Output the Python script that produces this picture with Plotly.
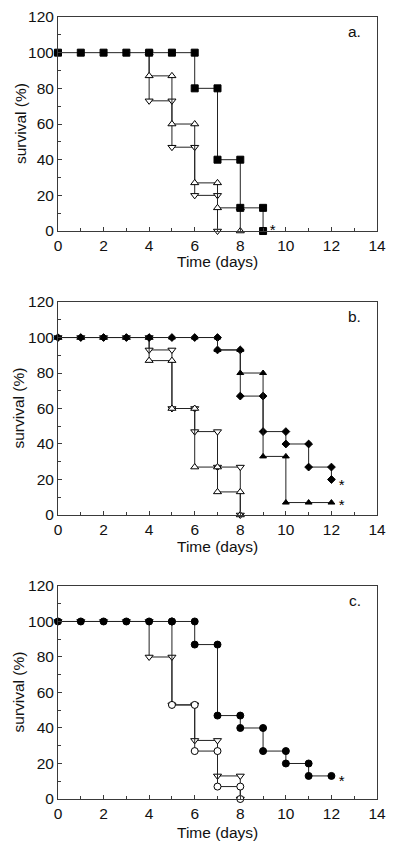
import plotly.graph_objects as go

# ---------- data ----------
# Panel a
a_sq_x = [0, 1, 2, 3, 4, 5, 6, 6, 7, 7, 8, 8, 9, 9]
a_sq_y = [100, 100, 100, 100, 100, 100, 100, 80, 80, 40, 40, 13, 13, 0]
a_up_x = [4, 4, 5, 5, 6, 6, 7, 7, 8, 8]
a_up_y = [100, 87, 87, 60, 60, 27, 27, 13, 13, 0]
a_dn_x = [4, 4, 5, 5, 6, 6, 7, 7]
a_dn_y = [100, 73, 73, 47, 47, 20, 20, 0]
a_star_x = [9.42]
a_star_y = [0]

# Panel b
b_dia_x = [0, 1, 2, 3, 4, 5, 6, 7, 7, 8, 8, 9, 9, 10, 10, 11, 11, 12, 12]
b_dia_y = [100, 100, 100, 100, 100, 100, 100, 100, 93, 93, 67, 67, 47, 47, 40, 40, 27, 27, 20]
b_tri_x = [0, 1, 2, 3, 4, 5, 6, 7, 7, 8, 8, 9, 9, 10, 10, 11, 12]
b_tri_y = [100, 100, 100, 100, 100, 100, 100, 100, 93, 93, 80, 80, 33, 33, 7, 7, 7]
b_dn_x = [0, 1, 2, 3, 4, 4, 5, 5, 6, 6, 7, 7, 8, 8]
b_dn_y = [100, 100, 100, 100, 100, 93, 93, 60, 60, 47, 47, 27, 27, 0]
b_up_x = [0, 1, 2, 3, 4, 4, 5, 5, 6, 6, 7, 7, 8, 8]
b_up_y = [100, 100, 100, 100, 100, 87, 87, 60, 60, 27, 27, 13, 13, 0]
b_star_x = [12.45, 12.45]
b_star_y = [16, 5]

# Panel c
c_fc_x = [0, 1, 2, 3, 4, 5, 6, 6, 7, 7, 8, 8, 9, 9, 10, 10, 11, 11, 12]
c_fc_y = [100, 100, 100, 100, 100, 100, 100, 87, 87, 47, 47, 40, 40, 27, 27, 20, 20, 13, 13]
c_dn_x = [0, 1, 2, 3, 4, 4, 5, 5, 6, 6, 7, 7, 8, 8]
c_dn_y = [100, 100, 100, 100, 100, 80, 80, 53, 53, 33, 33, 13, 13, 0]
c_oc_x = [5, 5, 6, 6, 7, 7, 8, 8]
c_oc_y = [100, 53, 53, 27, 27, 7, 7, 0]
c_star_x = [12.45]
c_star_y = [9.5]

panel_labels = ["a.", "b.", "c."]
x_title = "Time (days)"
y_title = "survival (%)"
x_ticks = [0, 2, 4, 6, 8, 10, 12, 14]
y_ticks = [0, 20, 40, 60, 80, 100, 120]

# ---------- figure ----------
LINE = "#222222"
AX = "#3a3a3a"
FONT = "Liberation Sans, Arial, Helvetica, sans-serif"

fig = go.Figure()


def add(x, y, sym, size, panel, filled=True):
    xa = "x" if panel == 1 else f"x{panel}"
    ya = "y" if panel == 1 else f"y{panel}"
    fig.add_trace(go.Scatter(
        x=x, y=y, mode="lines+markers", xaxis=xa, yaxis=ya,
        line=dict(color=LINE, width=1),
        marker=dict(symbol=sym, size=size,
                    color="black" if filled else "white",
                    line=dict(color="black", width=1)),
        showlegend=False, hoverinfo="skip", cliponaxis=False))


def star(x, y, panel):
    xa = "x" if panel == 1 else f"x{panel}"
    ya = "y" if panel == 1 else f"y{panel}"
    fig.add_trace(go.Scatter(
        x=x, y=y, mode="text", text=["*"] * len(x), xaxis=xa, yaxis=ya,
        textposition="middle center",
        textfont=dict(size=15, color="#000000", family=FONT),
        showlegend=False, hoverinfo="skip", cliponaxis=False))


# panel a
add(a_dn_x, a_dn_y, "triangle-down", 7, 1, filled=False)
add(a_up_x, a_up_y, "triangle-up", 7, 1, filled=False)
add(a_sq_x, a_sq_y, "square", 7, 1)
star(a_star_x, a_star_y, 1)

# panel b
add(b_dn_x, b_dn_y, "triangle-down", 7, 2, filled=False)
add(b_up_x, b_up_y, "triangle-up", 7, 2, filled=False)
add(b_dia_x, b_dia_y, "diamond", 6, 2)
add(b_tri_x, b_tri_y, "triangle-up", 6, 2)
star(b_star_x, b_star_y, 2)

# panel c
add(c_dn_x, c_dn_y, "triangle-down", 7, 3, filled=False)
add(c_oc_x, c_oc_y, "circle", 7, 3, filled=False)
add(c_fc_x, c_fc_y, "circle", 7, 3)
star(c_star_x, c_star_y, 3)

domains = [[0.7263, 1.0], [0.3632, 0.6355], [0.0, 0.2724]]
xtitle_shift = [-30, -32, -33]
ytitle_shift = [-38, -39, -40]

layout = dict(
    width=392, height=841,
    margin=dict(l=50, r=23, t=9, b=50),
    paper_bgcolor="white", plot_bgcolor="white",
    font=dict(family=FONT, size=15, color="#111"),
)

for i in range(3):
    sx = "" if i == 0 else str(i + 1)
    layout["xaxis" + sx] = dict(
        domain=[0, 1], anchor="y" + sx, range=[0, 14], automargin=False,
        tickvals=x_ticks, ticks="inside", ticklen=4, tickcolor=AX,
        minor=dict(dtick=1, ticks="inside", ticklen=3, tickcolor=AX),
        showline=True, linecolor=AX, linewidth=1, mirror=True,
        showgrid=False, zeroline=False, ticklabeloverflow="allow",
        tickfont=dict(size=15.5),
    )
    layout["yaxis" + sx] = dict(
        domain=domains[i], anchor="x" + sx, range=[0, 120], automargin=False,
        tickvals=y_ticks, ticks="inside", ticklen=4, tickcolor=AX,
        minor=dict(dtick=10, ticks="inside", ticklen=3, tickcolor=AX),
        showline=True, linecolor=AX, linewidth=1, mirror=True,
        showgrid=False, zeroline=False, ticklabeloverflow="allow",
        tickfont=dict(size=15.5),
    )

fig.update_layout(**layout)

for i, lab in enumerate(panel_labels):
    sx = "" if i == 0 else str(i + 1)
    fig.add_annotation(
        text=lab, x=0.956, y=0.93, xref=f"x{sx} domain", yref=f"y{sx} domain",
        showarrow=False, xanchor="right", yanchor="middle",
        font=dict(size=15.5, family=FONT, color="#111"))
    fig.add_annotation(
        text=x_title, x=0.5, y=0, xref=f"x{sx} domain", yref=f"y{sx} domain",
        yshift=xtitle_shift[i], showarrow=False, xanchor="center", yanchor="middle",
        font=dict(size=15.5, family=FONT, color="#111"))
    fig.add_annotation(
        text=y_title, x=0, y=0.5, xref=f"x{sx} domain", yref=f"y{sx} domain",
        xshift=ytitle_shift[i], textangle=-90, showarrow=False,
        xanchor="center", yanchor="middle",
        font=dict(size=15.5, family=FONT, color="#111"))

fig.write_html("out.html")
